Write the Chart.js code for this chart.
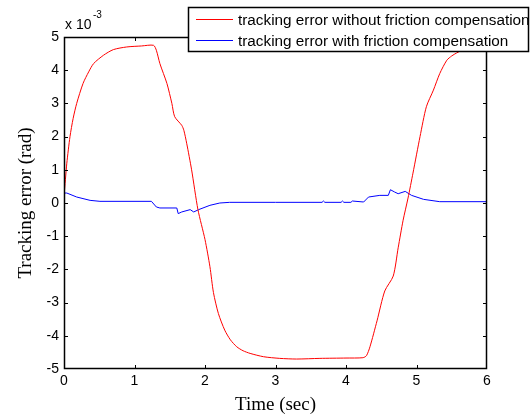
<!DOCTYPE html>
<html>
<head>
<meta charset="utf-8">
<script src="https://cdn.jsdelivr.net/npm/chart.js@4"></script>
<style>
  html, body { margin: 0; padding: 0; background: #fff; }
</style>
</head>
<body>
<canvas id="chart" width="531" height="418"></canvas>
<script>
// values are in units of 1e-3 rad (axis shows "x 10^-3")
const timeNoComp = [0, 0.02, 0.04, 0.085, 0.13, 0.18, 0.27, 0.35, 0.42, 0.56, 0.70, 0.89, 1.10, 1.27, 1.31, 1.36, 1.46, 1.53, 1.57, 1.67, 1.70, 1.74, 1.81, 1.90, 2.00, 2.07, 2.12, 2.19, 2.28, 2.36, 2.45, 2.54, 2.64, 2.83, 3.06, 3.30, 3.63, 4.00, 4.24, 4.29, 4.34, 4.44, 4.55, 4.67, 4.74, 4.81, 4.88, 4.95, 5.05, 5.14, 5.24, 5.33, 5.43, 5.50, 5.57, 5.70, 5.85, 6.00];
const errNoComp  = [0.2, 0.7, 1.2, 2.0, 2.55, 3.0, 3.6, 3.95, 4.2, 4.45, 4.62, 4.70, 4.73, 4.75, 4.6, 4.2, 3.6, 3.0, 2.6, 2.34, 2.19, 1.8, 1.0, -0.2, -1.1, -1.92, -2.7, -3.33, -3.83, -4.12, -4.33, -4.45, -4.53, -4.63, -4.68, -4.70, -4.68, -4.67, -4.66, -4.6, -4.33, -3.55, -2.65, -2.2, -1.35, -0.52, 0.15, 0.9, 2.0, 2.9, 3.4, 3.9, 4.3, 4.43, 4.52, 4.65, 4.72, 4.75];

const timeComp = [0, 0.005, 0.04, 0.18, 0.37, 0.51, 1.24, 1.31, 1.36, 1.60, 1.62, 1.67, 1.79, 1.84, 1.91, 2.07, 2.21, 2.35, 3.00, 3.66, 3.68, 3.70, 3.93, 3.95, 3.97, 4.07, 4.09, 4.25, 4.32, 4.48, 4.60, 4.63, 4.69, 4.74, 4.84, 4.93, 5.10, 5.33, 6.00];
const errComp  = [0, 0.3, 0.3, 0.18, 0.08, 0.05, 0.05, -0.12, -0.15, -0.15, -0.32, -0.27, -0.2, -0.27, -0.2, -0.07, 0.0, 0.02, 0.02, 0.02, 0.06, 0.02, 0.02, 0.06, 0.02, 0.02, 0.06, 0.03, 0.18, 0.23, 0.23, 0.4, 0.33, 0.28, 0.35, 0.23, 0.11, 0.04, 0.04];

const xTicks = [0, 1, 2, 3, 4, 5, 6];
const yTicks = [-5, -4, -3, -2, -1, 0, 1, 2, 3, 4, 5];
const seriesLabels = ['tracking error without friction compensation', 'tracking error with friction compensation'];

const toPoints = (xs, ys) => xs.map((t, i) => ({ x: t, y: ys[i] }));

// box, inward ticks on all four sides, exponent note and legend
const frame = {
  id: 'frame',
  afterDatasetsDraw(chart) {
    const { ctx, chartArea: a, scales: { x, y } } = chart;
    ctx.save();
    ctx.strokeStyle = '#000';
    ctx.lineWidth = 1.5;
    ctx.strokeRect(a.left + 0.5, a.top + 0.5, a.right - a.left - 1, a.bottom - a.top - 1);
    ctx.lineWidth = 1;
    ctx.beginPath();
    xTicks.slice(1, -1).forEach(v => {
      const px = Math.round(x.getPixelForValue(v)) + 0.5;
      ctx.moveTo(px, a.bottom); ctx.lineTo(px, a.bottom - 4);
      ctx.moveTo(px, a.top); ctx.lineTo(px, a.top + 4);
    });
    yTicks.slice(1, -1).forEach(v => {
      const py = Math.round(y.getPixelForValue(v)) + 0.5;
      ctx.moveTo(a.left, py); ctx.lineTo(a.left + 4, py);
      ctx.moveTo(a.right, py); ctx.lineTo(a.right - 4, py);
    });
    ctx.stroke();

    // x 10^-3
    ctx.fillStyle = '#000';
    ctx.textBaseline = 'alphabetic';
    ctx.font = '14px "Liberation Sans", Arial';
    ctx.fillText('x 10', a.left + 1, a.top - 8);
    ctx.font = '10px "Liberation Sans", Arial';
    ctx.fillText('-3', a.left + 29, a.top - 19);

    // legend
    const lx = 188, ly = 7, lw = 341, lh = 45;
    ctx.fillStyle = '#fff';
    ctx.fillRect(lx, ly, lw, lh);
    ctx.strokeStyle = '#000';
    ctx.lineWidth = 1.5;
    ctx.strokeRect(lx + 0.5, ly + 0.5, lw - 1, lh - 1);
    ctx.lineWidth = 1;
    ctx.font = '15.3px "Liberation Sans", Arial';
    ctx.textBaseline = 'middle';
    chart.data.datasets.forEach((ds, i) => {
      const cy = ly + 12.5 + i * 21;
      ctx.strokeStyle = ds.borderColor;
      ctx.beginPath();
      ctx.moveTo(lx + 8, cy); ctx.lineTo(lx + 45, cy);
      ctx.stroke();
      ctx.fillStyle = '#000';
      ctx.fillText(ds.label, lx + 50, cy + 1);
    });
    ctx.restore();
  }
};

new Chart(document.getElementById('chart'), {
  type: 'line',
  data: {
    datasets: [
      { label: seriesLabels[0], data: toPoints(timeNoComp, errNoComp), borderColor: '#ff0000', borderWidth: 1, pointRadius: 0, tension: 0.25 },
      { label: seriesLabels[1], data: toPoints(timeComp, errComp), borderColor: '#0000ff', borderWidth: 1, pointRadius: 0, tension: 0 }
    ]
  },
  options: {
    responsive: false,
    animation: false,
    layout: { padding: { top: 37, right: 44, left: 0, bottom: 0 } },
    plugins: { legend: { display: false }, tooltip: { enabled: false } },
    scales: {
      x: {
        type: 'linear', min: 0, max: 6,
        afterFit: s => { s.height = 49; },
        afterBuildTicks: s => { s.ticks = xTicks.map(v => ({ value: v })); },
        grid: { display: false, drawTicks: false }, border: { display: false },
        ticks: { color: '#000', padding: 4, font: { family: 'Liberation Sans', size: 14 } },
        title: { display: true, text: 'Time (sec)', color: '#000', padding: { top: 0, bottom: 2 }, font: { family: 'Liberation Serif', size: 19 } }
      },
      y: {
        min: -5, max: 5,
        afterFit: s => { s.width = 64; },
        afterBuildTicks: s => { s.ticks = yTicks.map(v => ({ value: v })); },
        grid: { display: false, drawTicks: false }, border: { display: false },
        ticks: { color: '#000', padding: 5, font: { family: 'Liberation Sans', size: 14 } },
        title: { display: true, text: 'Tracking error (rad)', color: '#000', padding: { top: 15, bottom: 0 }, font: { family: 'Liberation Serif', size: 19 } }
      }
    }
  },
  plugins: [frame]
});
</script>
</body>
</html>
